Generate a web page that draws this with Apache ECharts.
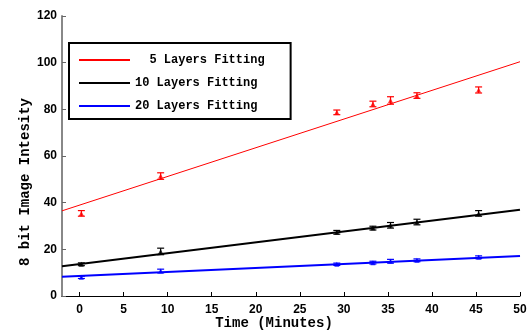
<!DOCTYPE html>
<html>
<head>
<meta charset="utf-8">
<script src="https://cdn.jsdelivr.net/npm/echarts@6/dist/echarts.min.js"></script>
<style>
    html, body { margin: 0; padding: 0; background: #fff; }
    #chart { width: 529px; height: 333px; }
</style>
</head>
<body>
<div id="chart"></div>
<script>
    // measured values (minutes / 8 bit intensity)
    var times = [0.2, 9.2, 29.2, 33.3, 35.3, 38.3, 45.3];
    var red = [35.4, 51.4, 78.7, 82.3, 83.8, 85.9, 88.3];
    var redErr = [1.2, 1.4, 1.0, 1.2, 1.6, 1.2, 1.3];
    var black = [13.6, 19.1, 27.3, 29.1, 30.3, 31.7, 35.4];
    var blackErr = [0.6, 1.4, 0.8, 0.8, 1.2, 1.2, 1.2];
    var blue = [8.0, 10.7, 13.6, 14.3, 14.9, 15.3, 16.6];
    var blueErr = [0.5, 0.8, 0.5, 0.6, 0.8, 0.6, 0.6];

    // fitted lines, ends of the x range
    var fitX = [-2, 50];
    var redFit = [36.5, 100.4];
    var blackFit = [12.7, 37.0];
    var blueFit = [8.3, 17.1];

    var xTicks = [0, 5, 10, 15, 20, 25, 30, 35, 40, 45, 50];
    var names = ['5 Layers Fitting', '10 Layers Fitting', '20 Layers Fitting'];
    var colors = ['#ff0000', '#000000', '#0000ff'];
    var mono = '"Liberation Mono", "DejaVu Sans Mono", monospace';

    function pairs(xs, ys) {
        return xs.map(function (x, i) { return [x, ys[i]]; });
    }

    function errData(ys, errs) {
        return times.map(function (t, i) { return [t, ys[i] - errs[i], ys[i] + errs[i]]; });
    }

    function errSeries(ys, errs, color) {
        return {
            type: 'custom',
            data: errData(ys, errs),
            z: 3,
            renderItem: function (params, api) {
                var lo = api.coord([api.value(0), api.value(1)]);
                var hi = api.coord([api.value(0), api.value(2)]);
                var w = 3.5;
                var st = { stroke: color, lineWidth: 1.2 };
                return {
                    type: 'group',
                    children: [
                        { type: 'line', shape: { x1: lo[0], y1: lo[1], x2: hi[0], y2: hi[1] }, style: st },
                        { type: 'line', shape: { x1: lo[0] - w, y1: lo[1], x2: lo[0] + w, y2: lo[1] }, style: st },
                        { type: 'line', shape: { x1: hi[0] - w, y1: hi[1], x2: hi[0] + w, y2: hi[1] }, style: st }
                    ]
                };
            }
        };
    }

    function fitSeries(name, ys, color, width) {
        return {
            name: name,
            type: 'line',
            data: pairs(fitX, ys),
            symbol: 'none',
            lineStyle: { color: color, width: width },
            itemStyle: { color: color },
            z: 2
        };
    }

    function pointSeries(ys, color) {
        return {
            type: 'scatter',
            data: pairs(times, ys),
            symbol: 'triangle',
            symbolSize: 5,
            itemStyle: { color: color },
            z: 4
        };
    }

    var chart = echarts.init(document.getElementById('chart'));
    var option = {
        animation: false,
        grid: { left: 62, right: 9, top: 16, bottom: 37, outerBoundsMode: 'none' },
        legend: {
            data: names,
            orient: 'vertical',
            left: 69,
            top: 43,
            icon: 'rect',
            itemWidth: 51,
            itemHeight: 2,
            itemGap: 11,
            padding: [11, 26, 7, 10],
            borderColor: '#000',
            borderWidth: 2,
            formatter: function (n) { return n.length < 17 ? '  ' + n : n; },
            textStyle: { fontFamily: mono, fontWeight: 'bold', fontSize: 12, color: '#000' }
        },
        xAxis: {
            type: 'value',
            min: -2,
            max: 50,
            name: 'Time (Minutes)',
            nameLocation: 'middle',
            nameGap: 20,
            nameMoveOverlap: false,
            nameTextStyle: { fontFamily: mono, fontWeight: 'bold', fontSize: 14, color: '#000', padding: [0, 34, 0, 0] },
            splitLine: { show: false },
            axisLine: { onZero: false, lineStyle: { color: '#000', width: 1 } },
            axisTick: { inside: true, length: 4, lineStyle: { color: '#000' }, customValues: xTicks },
            axisLabel: {
                color: '#000', fontWeight: 'bold', fontSize: 12, fontFamily: 'Liberation Sans, Arial',
                margin: 8,
                customValues: xTicks
            }
        },
        yAxis: {
            type: 'value',
            min: 0,
            max: 120,
            interval: 20,
            name: '8 bit Image Intesity',
            nameLocation: 'middle',
            nameGap: 30,
            nameMoveOverlap: false,
            nameTextStyle: { fontFamily: mono, fontWeight: 'bold', fontSize: 14, color: '#000', padding: [0, 52, 0, 0] },
            splitLine: { show: false },
            axisLine: { show: true, onZero: false, lineStyle: { color: '#888', width: 2 } },
            axisTick: { show: true, inside: true, length: 4, lineStyle: { color: '#666' } },
            axisLabel: { color: '#000', fontWeight: 'bold', fontSize: 12, fontFamily: 'Liberation Sans, Arial', margin: 5 }
        },
        series: [
            fitSeries(names[0], redFit, colors[0], 1),
            fitSeries(names[1], blackFit, colors[1], 2),
            fitSeries(names[2], blueFit, colors[2], 2),
            errSeries(red, redErr, colors[0]),
            errSeries(black, blackErr, colors[1]),
            errSeries(blue, blueErr, colors[2]),
            pointSeries(red, colors[0]),
            pointSeries(black, colors[1]),
            pointSeries(blue, colors[2])
        ]
    };
    chart.setOption(option);
</script>
</body>
</html>
